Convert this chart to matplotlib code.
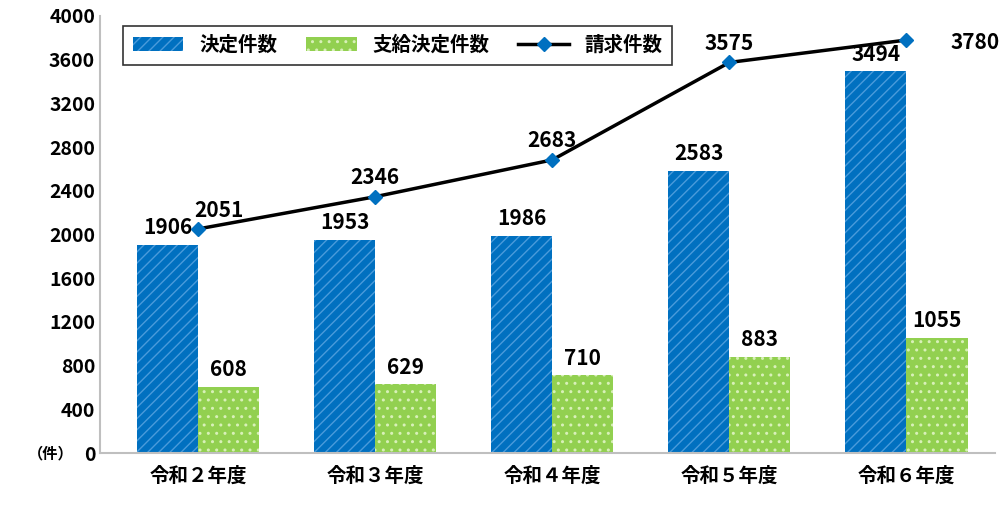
import numpy as np
import matplotlib
matplotlib.use("Agg")
import matplotlib.pyplot as plt

plt.rcParams["font.family"] = "Noto Sans CJK JP"
plt.rcParams["hatch.linewidth"] = 1.0

categories = ["令和２年度", "令和３年度", "令和４年度", "令和５年度", "令和６年度"]
decided = [1906, 1953, 1986, 2583, 3494]
paid = [608, 629, 710, 883, 1055]
claims = [2051, 2346, 2683, 3575, 3780]

fig = plt.figure(figsize=(10, 5.16), dpi=100)
ax = fig.add_axes([0.10, 0.122, 0.895, 0.847])
x = np.arange(len(categories))
w = 0.345

b1 = ax.bar(x - w / 2, decided, w, color="#0070C0", edgecolor="#4A9BDB",
            hatch="///", linewidth=0, label="決定件数")
b2 = ax.bar(x + w / 2, paid, w, color="#92D050", edgecolor="#D8F0B8",
            hatch="..", linewidth=0, label="支給決定件数")
ln, = ax.plot(x, claims, color="black", lw=2.5, marker="D", ms=7,
              mfc="#0070C0", mec="#0070C0", label="請求件数", zorder=5)

for xi, v in zip(x, decided):
    ax.text(xi - w / 2, v + 60, str(v), ha="center", va="bottom",
            fontsize=15, fontweight="bold")
for xi, v in zip(x, paid):
    ax.text(xi + w / 2, v + 60, str(v), ha="center", va="bottom",
            fontsize=15, fontweight="bold")
offs = [(0.12, 70), (0.0, 80), (0.0, 80), (0.0, 80), (0.25, -20)]
for xi, v, (dx, dy) in zip(x, claims, offs):
    ax.text(xi + dx, v + dy, str(v), ha="left" if dx > 0.2 else "center",
            va="bottom" if dy > 0 else "center", fontsize=15, fontweight="bold")

ax.set_xlim(-0.554, len(categories) - 0.5)
ax.set_ylim(0, 4000)
ax.set_yticks(range(0, 4001, 400))
ax.tick_params(axis="y", length=0, labelsize=14)
ax.tick_params(axis="x", length=0, labelsize=14, pad=10)
for t in ax.get_yticklabels() + ax.get_xticklabels():
    t.set_fontweight("bold")
ax.set_xticks(x)
ax.set_xticklabels(categories)
for s in ["top", "right"]:
    ax.spines[s].set_visible(False)
for s in ["left", "bottom"]:
    ax.spines[s].set_color("#BFBFBF")
    ax.spines[s].set_linewidth(1.5)
ax.text(-0.03, 0, "（件）", transform=ax.transAxes, ha="right", va="center",
        fontsize=11, fontweight="bold")

leg = ax.legend(handles=[b1, b2, ln], loc="upper left", bbox_to_anchor=(0.015, 1.0),
                ncol=3, frameon=True, fancybox=False, edgecolor="black",
                prop={"weight": "bold", "size": 14}, handlelength=2.6,
                columnspacing=1.5, borderpad=0.5)
leg.get_frame().set_linewidth(1.2)

fig.savefig("out.png", dpi=100)
